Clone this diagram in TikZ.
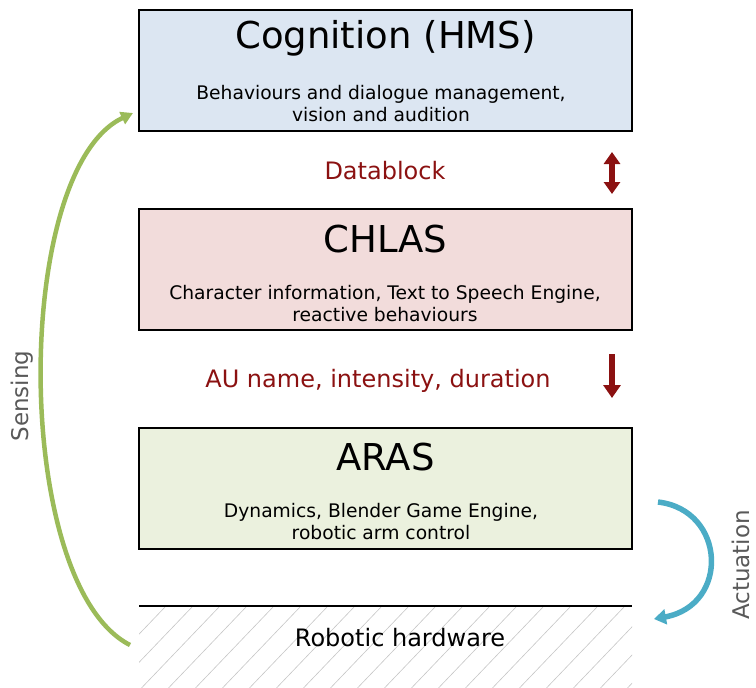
\documentclass[tikz,border=0pt]{standalone}
\usepackage{fontspec}
\setmainfont{DejaVu Sans}
\usetikzlibrary{positioning,arrows.meta}

\definecolor{hmsblue}{HTML}{DCE6F2}
\definecolor{chlaspink}{HTML}{F2DCDB}
\definecolor{arasgreen}{HTML}{EBF1DE}
\definecolor{darkred}{HTML}{8B1111}
\definecolor{senseg}{HTML}{9BBB59}
\definecolor{actb}{HTML}{4BACC6}
\definecolor{labgray}{HTML}{595959}

\tikzset{
	layer/.style={draw=black, line width=2.2pt, minimum width=493pt, minimum height=121pt, inner sep=0pt},
	title/.style={font=\fontsize{37}{42}\selectfont},
	sub/.style={font=\fontsize{18.7}{22}\selectfont, align=center},
	msg/.style={font=\fontsize{24}{28}\selectfont, text=darkred},
	redarrow/.style={darkred, line width=6pt},
	side/.style={font=\fontsize{23}{26}\selectfont, text=labgray, rotate=90}
}

\begin{document}
\begin{tikzpicture}[x=1pt, y=-1pt]

		\useasboundingbox (0,0) rectangle (756,688);

		\node[layer, fill=hmsblue] (HMS) at (385.5,70.5) {};
		\node[title] (HMSt) at (385.5,38) {Cognition (HMS)};
		\node[sub] (HMSs) at (381,104) {Behaviours and dialogue management,\\vision and audition};

		\node[msg] (DB) at (385,171) {Datablock};

		\node[layer, fill=chlaspink] (CH) at (385.5,269.5) {};
		\node[title] (CHt) at (385.5,239) {CHLAS};
		\node[sub] (CHs) at (385,304) {Character information, Text to Speech Engine,\\reactive behaviours};

		\node[msg] (AU) at (378,381) {AU name, intensity, duration};

		\node[layer, fill=arasgreen] (AR) at (385.5,488.5) {};
		\node[title] (ARt) at (385.5,457) {ARAS};
		\node[sub] (ARs) at (381,522) {Dynamics, Blender Game Engine,\\robotic arm control};

		% hardware ground
		\begin{scope}
			\clip (139,606) rectangle (632,688);
			\foreach \i in {0,...,26}
				\draw[gray!45, line width=0.6pt] (139+27*\i-90,700) -- (139+27*\i,606);
		\end{scope}
		\coordinate (HWl) at (139,606);
		\coordinate (HWr) at (632,606);
		\draw[line width=2.2pt] (HWl) -- (HWr);
		\node[font=\fontsize{24}{28}\selectfont] (HW) at (400,638) {Robotic hardware};

		% message arrows
		\coordinate (DBa) at (612,152);
		\coordinate (DBb) at (612,194);
		\draw[redarrow, {Triangle[length=12pt,width=16pt]}-{Triangle[length=12pt,width=16pt]}] (DBa) -- (DBb);
		\coordinate (AUa) at (612,354);
		\coordinate (AUb) at (612,398);
		\draw[redarrow, -{Triangle[length=13pt,width=17pt]}] (AUa) -- (AUb);

		% sensing and actuation loops
		\coordinate (Sb) at (130,645);
		\coordinate (St) at (133,113);
		\draw[senseg, line width=4.5pt, -{Triangle[length=12pt,width=13pt]}] (Sb) .. controls (12,585) and (12,170) .. (St);
		\node[side] (Sense) at (22,396) {Sensing};

		\coordinate (At) at (658,502);
		\coordinate (Ab) at (654,619);
		\draw[actb, line width=5.5pt, -{Triangle[length=12pt,width=15pt]}] (At) .. controls (726,510) and (730,605) .. (Ab);
		\node[side] (Act) at (741,565) {Actuation};
	\end{tikzpicture}
\end{document}
